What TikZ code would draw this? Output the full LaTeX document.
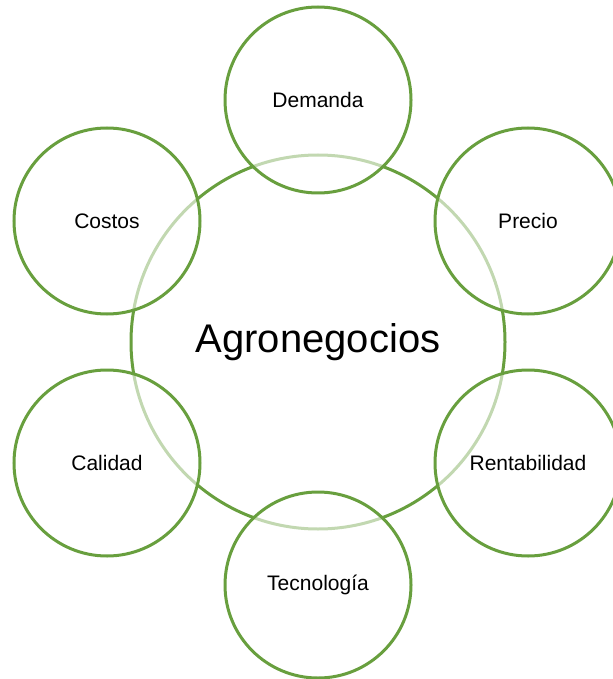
\documentclass[tikz,border=0pt]{standalone}
\usepackage{fontspec}
\setmainfont{Liberation Sans}
\usepackage{tikz}
\usetikzlibrary{shapes.geometric, positioning}

\definecolor{agrogreen}{RGB}{104,159,62}

\begin{document}
\begin{tikzpicture}[
        x=0.5pt, y=0.5pt,
        hub/.style={circle, draw=agrogreen, line width=1.5pt, fill=white, minimum size=187pt, inner sep=0pt, font=\fontsize{20}{24}\selectfont},
        spoke/.style={circle, draw=agrogreen, line width=1.5pt, fill=white, fill opacity=0.6, text opacity=1, minimum size=93pt, inner sep=0pt, font=\fontsize{10.5}{12}\selectfont}
    ]
    \useasboundingbox (0,0) rectangle (612,-679);

    % Centre
    \node[hub] (agro) at (318,-342) {Agronegocios};

    % Satellites
    \node[spoke] (demanda) at (318,-100) {Demanda};
    \node[spoke] (precio) at (528,-221) {Precio};
    \node[spoke] (rentab) at (528,-463) {Rentabilidad};
    \node[spoke] (tecno) at (318,-585) {Tecnología};
    \node[spoke] (calidad) at (107,-463) {Calidad};
    \node[spoke] (costos) at (107,-221) {Costos};

\end{tikzpicture}
\end{document}
